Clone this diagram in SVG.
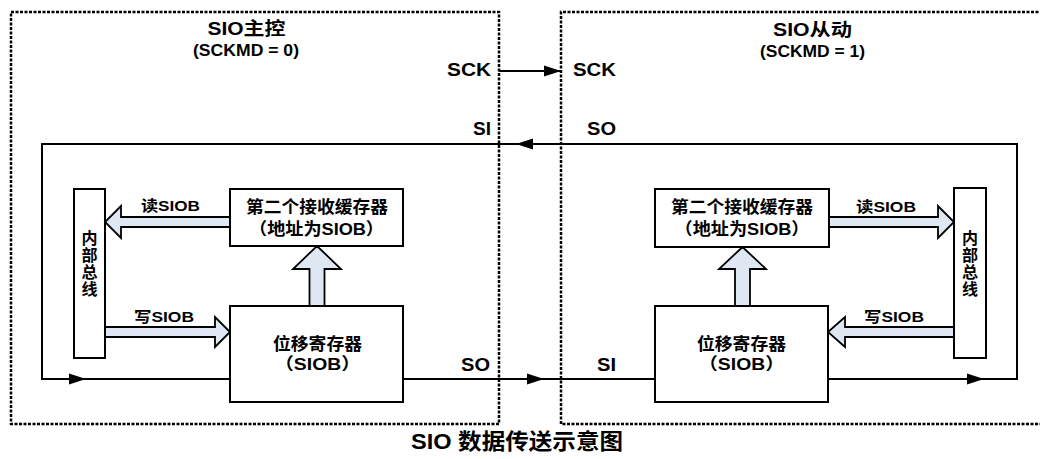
<svg xmlns="http://www.w3.org/2000/svg" width="1040" height="459" viewBox="0 0 1040 459">
<defs>
<style>
.dash{fill:none;stroke:#000;stroke-width:2.5;stroke-dasharray:3 1.5}
.box{fill:#fff;stroke:#000;stroke-width:2}
.fat{fill:#dfe7f3;stroke:#000;stroke-width:1.8;stroke-linejoin:miter}
.wire{fill:none;stroke:#000;stroke-width:2}
.head{fill:#000;stroke:none}
.t{font-family:"Liberation Sans","Noto Sans CJK SC",Arial,sans-serif;font-weight:bold;fill:#000}
</style>
<path id="ah" d="M0,0 L-17,-5.5 L-17,5.5 Z"/>
</defs>
<rect width="1040" height="459" fill="#fff"/>

<g id="master">
<path class="dash" d="M11,12 H499 V424 H11 Z"/>
<text class="t" x="246.5" y="35" font-size="18" text-anchor="middle" textLength="78" lengthAdjust="spacingAndGlyphs">SIO主控</text>
<text class="t" x="246" y="56" font-size="16" text-anchor="middle" textLength="106" lengthAdjust="spacingAndGlyphs">(SCKMD = 0)</text>
</g>
<g id="slave">
<path class="dash" d="M1043,12 H561 V424 H1043"/>
<text class="t" x="812.5" y="36" font-size="18" text-anchor="middle" textLength="79" lengthAdjust="spacingAndGlyphs">SIO从动</text>
<text class="t" x="812.5" y="57" font-size="16" text-anchor="middle" textLength="105" lengthAdjust="spacingAndGlyphs">(SCKMD = 1)</text>
</g>

<g id="connectors">
<path class="wire" d="M499,71 H560"/>
<use href="#ah" class="head" transform="translate(561,71)"/>
<path class="wire" d="M828,379 H1017 V144 H42 V379 H230"/>
<use href="#ah" class="head" transform="translate(516,144) rotate(180)"/>
<use href="#ah" class="head" transform="translate(86,379)"/>
<use href="#ah" class="head" transform="translate(984,379)"/>
<path class="wire" d="M403,379 H655"/>
<use href="#ah" class="head" transform="translate(544,379)"/>

<path class="fat" d="M230,217 H121 V206 L105,222 L121,238 V227 H230 Z"/>
<path class="fat" d="M829,217 H938 V206 L954,222 L938,238 V227 H829 Z"/>
<path class="fat" d="M105,327 H215 V317 L230,332 L215,347 V337 H105 Z"/>
<path class="fat" d="M954,327 H845 V317 L828,332 L845,347 V337 H954 Z"/>
<path class="fat" d="M309.5,306 V269 H293 L317,246 L341,269 H324.5 V306 Z"/>
<path class="fat" d="M735,306 V269 H719 L742.5,247 L766,269 H750 V306 Z"/>

<text class="t" x="447" y="76" font-size="19" textLength="44" lengthAdjust="spacingAndGlyphs">SCK</text>
<text class="t" x="573" y="76" font-size="19" textLength="43" lengthAdjust="spacingAndGlyphs">SCK</text>
<text class="t" x="473" y="135" font-size="18" textLength="18" lengthAdjust="spacingAndGlyphs">SI</text>
<text class="t" x="587" y="135" font-size="18" textLength="29" lengthAdjust="spacingAndGlyphs">SO</text>
<text class="t" x="461" y="371" font-size="18" textLength="29" lengthAdjust="spacingAndGlyphs">SO</text>
<text class="t" x="597" y="371" font-size="18" textLength="19" lengthAdjust="spacingAndGlyphs">SI</text>
<text class="t" x="141" y="211" font-size="15" textLength="59" lengthAdjust="spacingAndGlyphs">读SIOB</text>
<text class="t" x="856" y="212" font-size="15" textLength="60" lengthAdjust="spacingAndGlyphs">读SIOB</text>
<text class="t" x="134" y="322" font-size="15" textLength="60" lengthAdjust="spacingAndGlyphs">写SIOB</text>
<text class="t" x="864" y="322" font-size="15" textLength="60" lengthAdjust="spacingAndGlyphs">写SIOB</text>
</g>

<g id="bus-left">
<rect class="box" x="74" y="189" width="31" height="169"/>
<text class="t" font-size="16" text-anchor="middle"><tspan x="89.5" y="244">内</tspan><tspan x="89.5" y="261">部</tspan><tspan x="89.5" y="278">总</tspan><tspan x="89.5" y="295">线</tspan></text>
</g>
<g id="buffer-left">
<rect class="box" x="230" y="189" width="173" height="57"/>
<text class="t" x="317" y="213" font-size="17" text-anchor="middle" textLength="142" lengthAdjust="spacingAndGlyphs">第二个接收缓存器</text>
<text class="t" x="316.5" y="235" font-size="17" text-anchor="middle" textLength="135" lengthAdjust="spacingAndGlyphs">（地址为SIOB）</text>
</g>
<g id="shift-left">
<rect class="box" x="230" y="306" width="173" height="96"/>
<text class="t" x="317.5" y="350" font-size="17" text-anchor="middle" textLength="89" lengthAdjust="spacingAndGlyphs">位移寄存器</text>
<text class="t" x="317.5" y="370" font-size="17" text-anchor="middle" textLength="86" lengthAdjust="spacingAndGlyphs">（SIOB）</text>
</g>
<g id="bus-right">
<rect class="box" x="954" y="188" width="32" height="170"/>
<text class="t" font-size="16" text-anchor="middle"><tspan x="970" y="244">内</tspan><tspan x="970" y="261">部</tspan><tspan x="970" y="278">总</tspan><tspan x="970" y="295">线</tspan></text>
</g>
<g id="buffer-right">
<rect class="box" x="655" y="189" width="174" height="58"/>
<text class="t" x="742" y="213" font-size="17" text-anchor="middle" textLength="142" lengthAdjust="spacingAndGlyphs">第二个接收缓存器</text>
<text class="t" x="742" y="235" font-size="17" text-anchor="middle" textLength="135" lengthAdjust="spacingAndGlyphs">（地址为SIOB）</text>
</g>
<g id="shift-right">
<rect class="box" x="655" y="306" width="173" height="96"/>
<text class="t" x="741.5" y="350" font-size="17" text-anchor="middle" textLength="89" lengthAdjust="spacingAndGlyphs">位移寄存器</text>
<text class="t" x="741.5" y="370" font-size="17" text-anchor="middle" textLength="86" lengthAdjust="spacingAndGlyphs">（SIOB）</text>
</g>

<g id="caption">
<text class="t" x="411" y="449" font-size="22" textLength="212" lengthAdjust="spacingAndGlyphs">SIO 数据传送示意图</text>
</g>
</svg>
